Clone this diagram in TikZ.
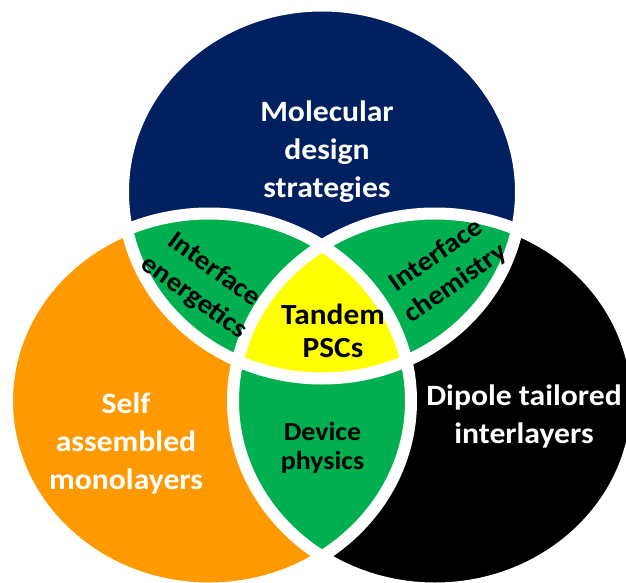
\documentclass[tikz,border=0pt]{standalone}
\usepackage{fontspec}
\setmainfont{Carlito}[FakeStretch=1.074]
\definecolor{navyc}{RGB}{0,32,96}
\definecolor{orangec}{RGB}{255,153,0}
\definecolor{greenc}{RGB}{0,176,80}
\definecolor{yellowc}{RGB}{255,255,0}
\tikzset{
  pathA/.style={insert path={(A) ellipse [x radius=199, y radius=186.5]}},
  pathB/.style={insert path={(B) ellipse [x radius=202, y radius=187.5]}},
  pathC/.style={insert path={(C) ellipse [x radius=202, y radius=187.5]}},
  ring/.style={draw=white, line width=12bp},
  biglbl/.style={font=\bfseries\fontsize{29.5bp}{38bp}\selectfont, align=center, inner sep=0pt},
  smalllbl/.style={font=\bfseries\fontsize{26bp}{29bp}\selectfont, align=center, inner sep=0pt, text=black},
  rotlbl/.style={font=\bfseries\fontsize{27bp}{34bp}\selectfont, align=center, inner sep=0pt, text=black}
}
\begin{document}
\begin{tikzpicture}[x=1bp,y=1bp]
\useasboundingbox (0,0) rectangle (626,-583);
\clip (0,0) rectangle (626,-583);
\coordinate (A) at (322,-192);
\coordinate (B) at (209,-401);
\coordinate (C) at (435,-401);
% single-set regions
\fill[navyc, pathA];
\fill[orangec, pathB];
\fill[black, pathC];
% pairwise overlaps
\begin{scope}
  \clip[pathA];
  \fill[greenc, pathB];
  \fill[greenc, pathC];
\end{scope}
\begin{scope}
  \clip[pathB];
  \fill[greenc, pathC];
\end{scope}
% triple overlap
\begin{scope}
  \clip[pathA];
  \clip[pathB];
  \fill[yellowc, pathC];
\end{scope}
% white outlines separating all regions
\path[ring, pathA];
\path[ring, pathB];
\path[ring, pathC];
% labels
\node[biglbl, text=white] (mol) at (327,-151.7) {Molecular\\design\\strategies};
\node[biglbl, text=white] (sam) at (126,-443) {Self\\assembled\\monolayers};
\node[biglbl, text=white] (dip) at (524,-416.7) {Dipole tailored\\interlayers};
\node[biglbl, text=black, font=\bfseries\fontsize{29.2bp}{33bp}\selectfont] (tan) at (333,-331) {Tandem\\PSCs};
\node[smalllbl] (dev) at (322.5,-448) {Device\\physics};
\node[rotlbl, rotate=-36] (ene) at (204,-284) {Interface\\energetics};
\node[rotlbl, rotate=35] (che) at (446,-269.5) {Interface\\chemistry};
\end{tikzpicture}
\end{document}
